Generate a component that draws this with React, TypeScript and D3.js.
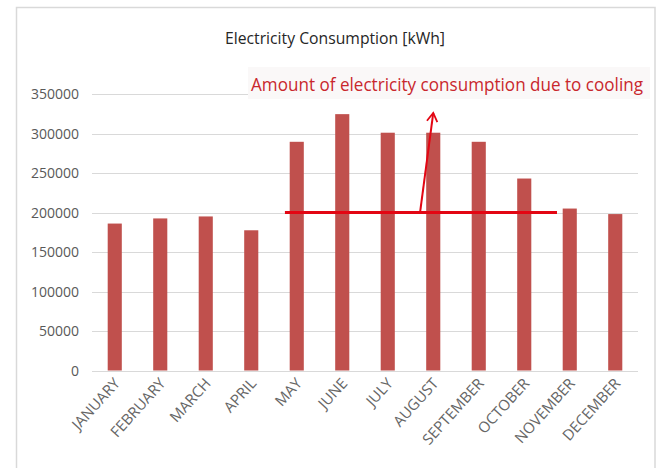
import React from "react";
import * as d3 from "d3";

const months = ["JANUARY","FEBRUARY","MARCH","APRIL","MAY","JUNE","JULY","AUGUST","SEPTEMBER","OCTOBER","NOVEMBER","DECEMBER"];
const consumption = [186000,192500,195000,177500,289500,324500,301000,301000,289500,243000,205000,198000];
const yTicks = [0,50000,100000,150000,200000,250000,300000,350000];
const baseline = 200000;
const title = "Electricity Consumption [kWh]";
const annotation = "Amount of electricity consumption due to cooling";

export default function App() {
  const W = 660, H = 468;
  const x = d3.scaleBand<string>().domain(months).range([92, 638]).paddingInner(0).paddingOuter(0);
  const y = d3.scaleLinear().domain([0, 350000]).range([370.5, 94]);
  const bw = x.bandwidth();
  const barW = bw * 0.31;
  const lineX1 = (x("MAY") as number) + bw * 0.24;
  const lineX2 = (x("NOVEMBER") as number) + bw * 0.22;
  const arrowX0 = (x("AUGUST") as number) + bw * 0.21;
  const arrowX1 = (x("AUGUST") as number) + bw * 0.5;
  const arrowY0 = y(baseline);
  const arrowY1 = y(326000);
  const ang = Math.atan2(arrowY1 - arrowY0, arrowX1 - arrowX0);
  const hl = 10, ha = 0.55;
  const h1 = [arrowX1 - hl * Math.cos(ang - ha), arrowY1 - hl * Math.sin(ang - ha)];
  const h2 = [arrowX1 - hl * Math.cos(ang + ha), arrowY1 - hl * Math.sin(ang + ha)];
  const font = "'Open Sans', 'DejaVu Sans', sans-serif";
  return (
    <svg width={W} height={H} style={{ position: "fixed", left: 0, top: 0, background: "#fff" }} fontFamily={font}>
      <rect x={0} y={0} width={W} height={H} fill="#fff" />
      <rect x={16.5} y={7.5} width={638.5} height={470} fill="#fff" stroke="#d9d9d9" strokeWidth={1.5} />
      <text x={335} y={44} textAnchor="middle" fontSize={15.5} fill="#262626" textLength={220} lengthAdjust="spacingAndGlyphs">{title}</text>
      {yTicks.map((t) => (
        <g key={t}>
          <line x1={92} x2={638} y1={Math.round(y(t)) + 0.5} y2={Math.round(y(t)) + 0.5} stroke="#d9d9d9" strokeWidth={1} />
          <text x={79} y={y(t) + 5} textAnchor="end" fontSize={14} fill="#595959">{t}</text>
        </g>
      ))}
      {months.map((m, i) => (
        <rect key={m} x={(x(m) as number) + bw / 2 - barW / 2} y={y(consumption[i])} width={barW} height={y(0) - y(consumption[i])} fill="#c0504d" />
      ))}
      {months.map((m) => {
        const cx = (x(m) as number) + bw / 2 + 6;
        const cy = 384;
        return (
          <text key={m} x={cx} y={cy} textAnchor="end" fontSize={15} fill="#666" transform={`rotate(-48 ${cx} ${cy})`}>{m}</text>
        );
      })}
      <rect x={248} y={67} width={402} height={32} fill="#faf8f8" />
      <text x={251} y={91} fontSize={17.5} fill="#c9272d" textLength={392} lengthAdjust="spacingAndGlyphs">{annotation}</text>
      <line x1={lineX1} x2={lineX2} y1={y(baseline)} y2={y(baseline)} stroke="#e30613" strokeWidth={3} />
      <line x1={arrowX0} y1={arrowY0} x2={arrowX1} y2={arrowY1} stroke="#e30613" strokeWidth={2} />
      <polyline points={`${h1[0]},${h1[1]} ${arrowX1},${arrowY1} ${h2[0]},${h2[1]}`} fill="none" stroke="#e30613" strokeWidth={1.8} />
    </svg>
  );
}
